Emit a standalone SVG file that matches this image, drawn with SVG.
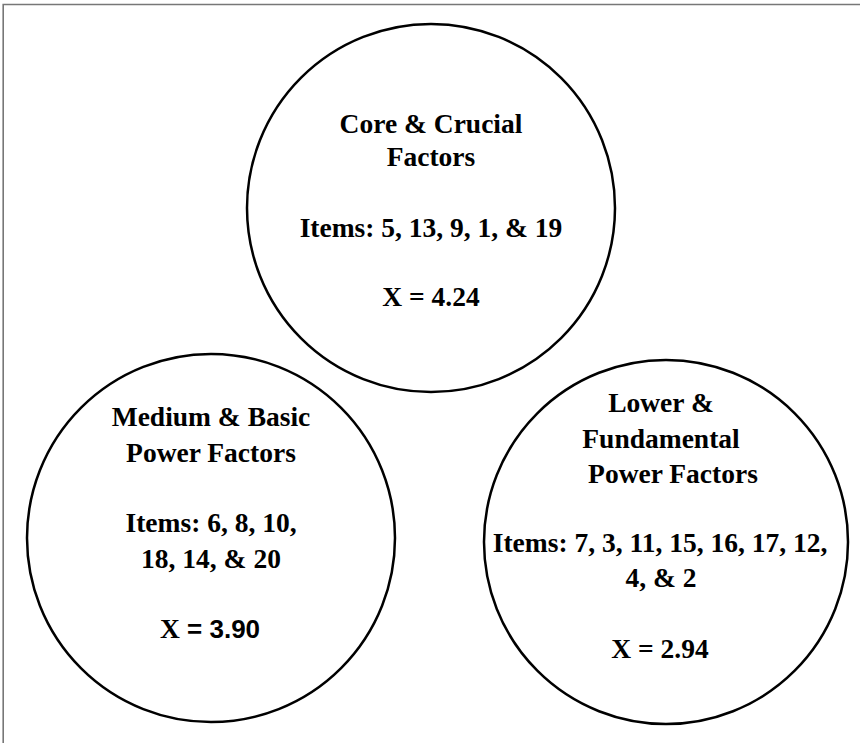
<svg xmlns="http://www.w3.org/2000/svg" width="860" height="743" viewBox="0 0 860 743">
<style>
.circ{fill:#fff;stroke:#000;stroke-width:2.5}
.t{font-family:"Liberation Serif","Times New Roman",serif;font-weight:bold;font-size:27.5px;fill:#000;text-anchor:middle}
.s{font-family:"Liberation Sans",Arial,sans-serif;font-weight:bold;font-size:26px}
</style>
<rect width="860" height="743" fill="#fff"/>
<path d="M3.2,743 V4.5 H860" fill="none" stroke="#777" stroke-width="1.6"/>
<g id="connectors"></g>
<g id="node-core">
<circle class="circ" cx="431" cy="208" r="184"/>
<text class="t" x="431" y="133">Core &amp; Crucial</text>
<text class="t" x="431" y="166">Factors</text>
<text class="t" x="431" y="237">Items: 5, 13, 9, 1, &amp; 19</text>
<text class="t" x="431" y="306">X = 4.24</text>
</g>
<g id="node-medium">
<circle class="circ" cx="211" cy="538" r="184"/>
<text class="t" x="211" y="426">Medium &amp; Basic</text>
<text class="t" x="211" y="462">Power Factors</text>
<text class="t" x="211" y="532">Items: 6, 8, 10,</text>
<text class="t" x="211" y="568">18, 14, &amp; 20</text>
<text class="t" x="210" y="638">X<tspan class="s"> = 3.90</tspan></text>
</g>
<g id="node-lower">
<circle class="circ" cx="666" cy="542" r="182"/>
<text class="t" x="661" y="412">Lower &amp;</text>
<text class="t" x="661" y="448">Fundamental</text>
<text class="t" x="673" y="483">Power Factors</text>
<text class="t" x="660" y="552">Items: 7, 3, 11, 15, 16, 17, 12,</text>
<text class="t" x="661" y="587">4, &amp; 2</text>
<text class="t" x="660" y="658">X = 2.94</text>
</g>
</svg>
